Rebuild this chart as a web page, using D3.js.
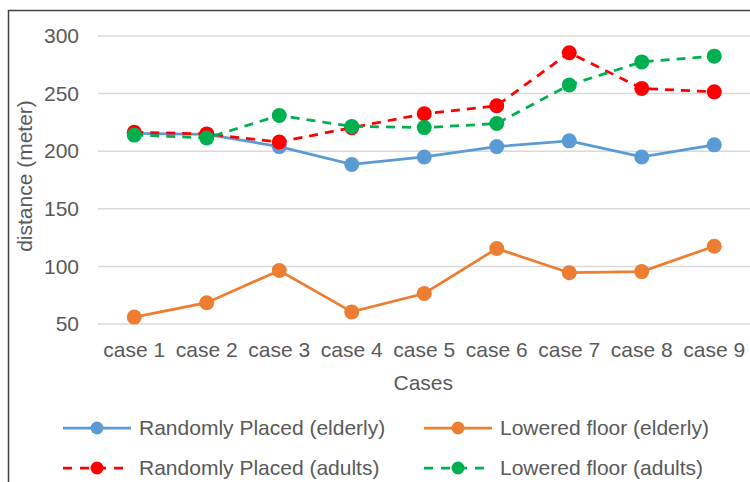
<!DOCTYPE html>
<html>
<head>
<meta charset="utf-8">
<script src="https://cdn.jsdelivr.net/npm/d3@7"></script>
<style>
  html, body { margin: 0; padding: 0; background: #fff; }
  svg text { font-family: "Liberation Sans", Arial, sans-serif; fill: #595959; }
</style>
</head>
<body>
<svg id="chart" width="750" height="482"></svg>
<script>
// Walking distance per evacuation case
const cases = ["case 1", "case 2", "case 3", "case 4", "case 5", "case 6", "case 7", "case 8", "case 9"];
const randomElderly = [215.5, 214.5, 204, 188.5, 195, 204, 209, 195, 205.5];
const loweredElderly = [56, 68.5, 96.5, 60.5, 76.5, 115.5, 94.5, 95.5, 117.5];
const randomAdults = [216.5, 215, 208, 220.5, 232.5, 239.5, 285.5, 254.5, 251.5];
const loweredAdults = [214, 211.5, 231, 221.5, 220.5, 224, 257.5, 277.5, 282.5];
const yTicks = [50, 100, 150, 200, 250, 300];

const series = [
  { name: "Randomly Placed (elderly)", values: randomElderly, color: "#5B9BD5", dash: null },
  { name: "Lowered floor (elderly)", values: loweredElderly, color: "#ED7D31", dash: null },
  { name: "Randomly Placed (adults)", values: randomAdults, color: "#FF0000", dash: "9,7" },
  { name: "Lowered floor (adults)", values: loweredAdults, color: "#00B050", dash: "9,7" }
];

const FONT = 21;
const svg = d3.select("#chart");

// outer frame (top and left edges visible)
svg.append("path")
  .attr("d", "M8.5,482 L8.5,10.5 L750,10.5")
  .attr("fill", "none")
  .attr("stroke", "#404040")
  .attr("stroke-width", 1.5);

const plot = { left: 98, right: 750.5, top: 36, bottom: 324 };

const x = d3.scaleBand().domain(cases).range([plot.left, plot.right]);
const y = d3.scaleLinear().domain([50, 300]).range([plot.bottom, plot.top]);

// horizontal gridlines
svg.append("g")
  .selectAll("line")
  .data(yTicks)
  .join("line")
  .attr("x1", plot.left)
  .attr("x2", plot.right)
  .attr("y1", d => y(d))
  .attr("y2", d => y(d))
  .attr("stroke", "#D9D9D9")
  .attr("stroke-width", 1.5);

// y axis labels
const yAxis = svg.append("g")
  .attr("transform", `translate(${plot.left - 19},0)`)
  .call(d3.axisLeft(y).tickValues(yTicks).tickSize(0).tickPadding(0));
yAxis.select(".domain").remove();
yAxis.selectAll("text")
  .attr("font-size", FONT)
  .attr("fill", "#595959")
  .attr("font-family", "Liberation Sans, Arial, sans-serif");

// x axis labels
const xAxis = svg.append("g")
  .attr("transform", `translate(0,${plot.bottom})`)
  .call(d3.axisBottom(x).tickSize(0).tickPadding(0));
xAxis.select(".domain").remove();
xAxis.selectAll("text")
  .attr("dy", null)
  .attr("y", 33)
  .attr("font-size", FONT)
  .attr("fill", "#595959")
  .attr("font-family", "Liberation Sans, Arial, sans-serif");

// axis titles
svg.append("text")
  .attr("x", (plot.left + plot.right) / 2 - 1)
  .attr("y", 390)
  .attr("text-anchor", "middle")
  .attr("font-size", FONT)
  .text("Cases");

svg.append("text")
  .attr("transform", `translate(32,${(plot.top + plot.bottom) / 2 - 4}) rotate(-90)`)
  .attr("text-anchor", "middle")
  .attr("font-size", FONT)
  .text("distance (meter)");

// series lines and markers
const cx = d => x(d) + x.bandwidth() / 2;
const line = d3.line().x((d, i) => cx(cases[i])).y(d => y(d));

series.forEach(s => {
  const g = svg.append("g");
  g.append("path")
    .datum(s.values)
    .attr("d", line)
    .attr("fill", "none")
    .attr("stroke", s.color)
    .attr("stroke-width", 2.75)
    .attr("stroke-dasharray", s.dash);
  g.selectAll("circle")
    .data(s.values)
    .join("circle")
    .attr("cx", (d, i) => cx(cases[i]))
    .attr("cy", d => y(d))
    .attr("r", 7.5)
    .attr("fill", s.color);
});

// legend
const legendPos = [
  { x: 63, y: 428 },
  { x: 424, y: 428 },
  { x: 63, y: 468 },
  { x: 424, y: 468 }
];
series.forEach((s, i) => {
  const p = legendPos[i];
  const g = svg.append("g").attr("transform", `translate(${p.x},${p.y})`);
  g.append("line")
    .attr("x1", 0).attr("x2", 68)
    .attr("y1", 0).attr("y2", 0)
    .attr("stroke", s.color)
    .attr("stroke-width", 2.75)
    .attr("stroke-dasharray", s.dash ? "9,8" : null);
  g.append("circle")
    .attr("cx", 34).attr("cy", 0).attr("r", 6.5)
    .attr("fill", s.color);
  g.append("text")
    .attr("x", 76)
    .attr("y", 0)
    .attr("dy", "0.35em")
    .attr("font-size", FONT)
    .text(s.name);
});
</script>
</body>
</html>
